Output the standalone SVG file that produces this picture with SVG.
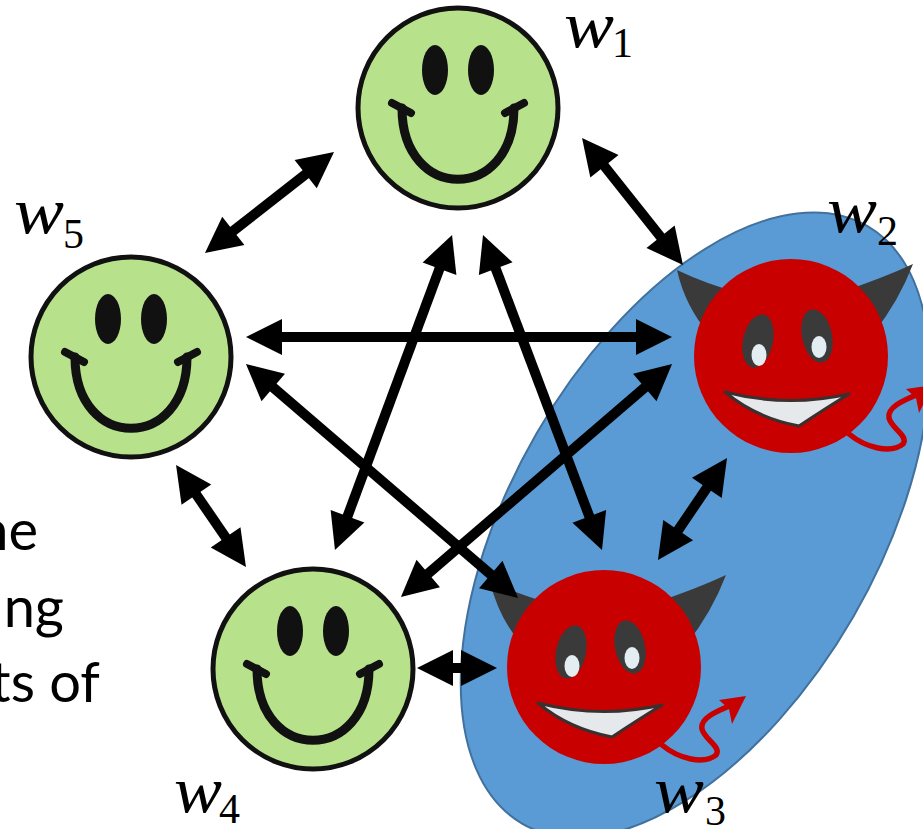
<svg xmlns="http://www.w3.org/2000/svg" xmlns:xlink="http://www.w3.org/1999/xlink" width="923" height="829" viewBox="0 0 923 829">
  <style>
    .face{fill:#b8e18b;stroke:#111;stroke-width:5}
    .eye{fill:#111}
    .smile{fill:none;stroke:#111;stroke-width:9;stroke-linecap:round}
    .tick{fill:none;stroke:#111;stroke-width:8;stroke-linecap:round}
    .dface{fill:#c80000}
    .horn{fill:#3a3a3a}
    .deye{fill:#3a3a3a}
    .pupil{fill:#e4eef2}
    .mouth{fill:#e6e9ec;stroke:#3a3030;stroke-width:3;stroke-linejoin:round}
    .tail{fill:none;stroke:#c80000;stroke-width:5.5;stroke-linecap:round}
    .tailtip{fill:#c80000}
    .conn line{stroke:#000;stroke-width:10;marker-start:url(#ah);marker-end:url(#ah)}
    .var{font-family:"Liberation Serif",serif;font-style:italic;font-size:66px}
    .sub{font-family:"Liberation Serif",serif;font-size:42px}
    .body{font-family:Lato,"Open Sans",sans-serif;font-size:56px}
  </style>
  <defs>
    <!-- double-headed arrow tip, drawn in user units -->
    <marker id="ah" markerUnits="userSpaceOnUse" markerWidth="40" markerHeight="40" viewBox="0 -20 40 40" refX="6" refY="0" orient="auto-start-reverse" overflow="visible">
      <path d="M0,-18 L36,0 L0,18 Z" fill="#000"/>
    </marker>
    <!-- happy face, centred on the origin -->
    <g id="smiley">
      <circle class="face" r="100"/>
      <ellipse class="eye" cx="-23" cy="-38" rx="13" ry="25"/>
      <ellipse class="eye" cx="23" cy="-38" rx="13" ry="25"/>
      <path class="smile" d="M-56,0 C-56,95 56,95 56,0"/>
      <path class="tick" d="M-66,-5 L-47,5 M47,5 L66,-5"/>
    </g>
    <!-- devil face, centred on the origin -->
    <g id="devil">
      <path class="horn" d="M-82,-22 Q-106,-50 -114,-86 Q-85,-72 -48,-62 Z"/>
      <path class="horn" d="M82,-22 Q108,-55 122,-92 Q92,-78 50,-64 Z"/>
      <circle class="dface" r="97"/>
      <ellipse class="deye" cx="-33" cy="-15" rx="15" ry="27" transform="rotate(12 -33 -15)"/>
      <ellipse class="deye" cx="26" cy="-20" rx="15" ry="27" transform="rotate(-12 26 -20)"/>
      <ellipse class="pupil" cx="-32" cy="-1" rx="7.5" ry="11"/>
      <ellipse class="pupil" cx="28" cy="-9" rx="7.5" ry="11"/>
      <path class="mouth" d="M-66,36 Q-4,52 58,38 Q35,52 8,70 Q-35,62 -66,36 Z"/>
      <path class="tail" d="M58,78 C75,92 100,98 112,88 C118,80 100,72 98,62 C96,52 110,45 128,38"/>
      <path class="tailtip" d="M142,29 L115,33 L125,42 L128,57 Z"/>
    </g>
  </defs>

  <rect width="923" height="829" fill="#fff"/>

  <!-- shaded group around the two devils -->
  <ellipse id="group" cx="695" cy="525" rx="183" ry="345" transform="rotate(30 695 525)" fill="#5b9bd5" stroke="#41719c" stroke-width="2"/>

  <!-- partly hidden body text on the left -->
  <text class="body" text-anchor="end"><tspan x="38" y="550">he</tspan><tspan x="64" y="627">ng</tspan><tspan x="100" y="702">ts of</tspan></text>

  <g id="w1">
    <use xlink:href="#smiley" href="#smiley" transform="translate(458,108)"/>
    <text class="var" x="564" y="47" textLength="50" lengthAdjust="spacingAndGlyphs">w</text><text class="sub" x="612" y="57">1</text>
  </g>
  <g id="w2">
    <use xlink:href="#devil" href="#devil" transform="translate(791,356)"/>
    <text class="var" x="827" y="232" textLength="50" lengthAdjust="spacingAndGlyphs">w</text><text class="sub" x="877" y="245">2</text>
  </g>
  <g id="w3">
    <use xlink:href="#devil" href="#devil" transform="translate(604,667)"/>
    <text class="var" x="654" y="812" textLength="50" lengthAdjust="spacingAndGlyphs">w</text><text class="sub" x="705" y="825">3</text>
  </g>
  <g id="w4">
    <use xlink:href="#smiley" href="#smiley" transform="translate(313,669)"/>
    <text class="var" x="174" y="812" textLength="48" lengthAdjust="spacingAndGlyphs">w</text><text class="sub" x="219" y="823">4</text>
  </g>
  <g id="w5">
    <use xlink:href="#smiley" href="#smiley" transform="translate(131,357)"/>
    <text class="var" x="14" y="233" textLength="50" lengthAdjust="spacingAndGlyphs">w</text><text class="sub" x="63" y="248">5</text>
  </g>

  <!-- connectors: every pair talks both ways -->
  <g id="connectors" class="conn">
    <line x1="310.4" y1="170.5" x2="228.6" y2="234.5"/>
    <line x1="600.7" y1="161.5" x2="664.3" y2="241.5"/>
    <line x1="276" y1="337" x2="642" y2="337"/>
    <line x1="268.7" y1="383.6" x2="495.3" y2="578.4"/>
    <line x1="441.6" y1="263.1" x2="345.4" y2="521.9"/>
    <line x1="493.6" y1="263.1" x2="591.4" y2="521.9"/>
    <line x1="649.3" y1="383.6" x2="423.7" y2="577.4"/>
    <line x1="193" y1="489.7" x2="229" y2="542.3"/>
    <line x1="710.2" y1="482.9" x2="674.8" y2="535.1"/>
    <line x1="447" y1="668" x2="467" y2="668"/>
  </g>
</svg>
